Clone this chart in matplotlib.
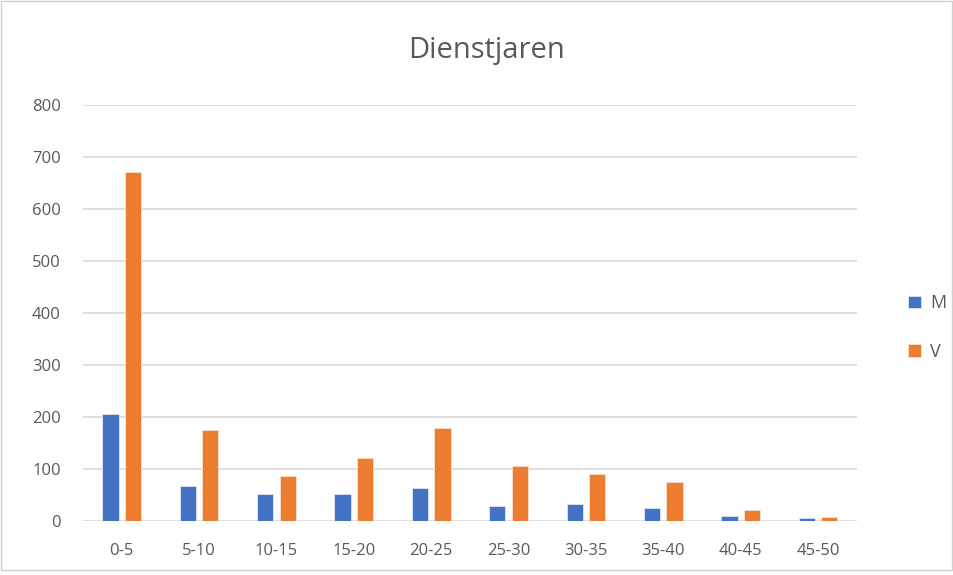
import numpy as np
import matplotlib.pyplot as plt
from matplotlib.patches import Rectangle

plt.rcParams['font.family'] = ['Open Sans', 'DejaVu Sans']

categories = ['0-5', '5-10', '10-15', '15-20', '20-25', '25-30', '30-35', '35-40', '40-45', '45-50']
m_values = [205, 68, 52, 52, 64, 29, 33, 25, 10, 6]
v_values = [670, 174, 86, 121, 178, 105, 90, 75, 22, 7]

fig = plt.figure(figsize=(9.54, 5.75), dpi=100)
ax = fig.add_axes([0.087, 0.094, 0.811, 0.724])

x = np.arange(len(categories))
w = 0.21
ax.bar(x - 0.145, m_values, w, color='#4472C4', edgecolor='#dce6f5', linewidth=0.6, label='M', zorder=3)
ax.bar(x + 0.145, v_values, w, color='#ED7D31', edgecolor='#fbe0cf', linewidth=0.6, label='V', zorder=3)

ax.set_xlim(-0.5, len(categories) - 0.5)
ax.set_ylim(0, 800)
ax.set_yticks(range(0, 801, 100))
ax.set_xticks(x)
ax.set_xticklabels(categories)
ax.grid(axis='y', color='#d9d9d9', linewidth=1.2, zorder=0)
for s in ax.spines.values():
    s.set_visible(False)
ax.tick_params(length=0, labelsize=12, colors='#595959')
ax.tick_params(axis='x', pad=16)
ax.tick_params(axis='y', pad=16)

fig.text(0.51, 0.912, 'Dienstjaren', ha='center', va='center', fontsize=21, color='#595959')

fig.legend(loc='center left', bbox_to_anchor=(0.935, 0.43), frameon=False,
           fontsize=13, handlelength=0.7, handleheight=0.7, handletextpad=0.5,
           labelspacing=1.7, labelcolor='#595959')

fig.patches.append(Rectangle((0.001, 0.008), 0.997, 0.99, transform=fig.transFigure,
                             fill=False, edgecolor='#d0d0d0', linewidth=1))

fig.savefig('out.png', dpi=100)
